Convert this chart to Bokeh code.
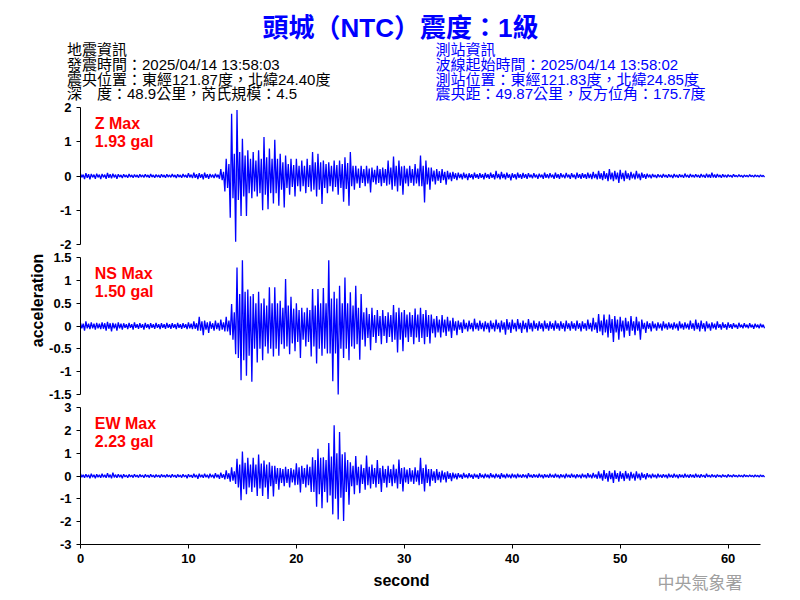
import math
from bokeh.plotting import figure
from bokeh.models import Range1d, Label, FixedTicker, CustomJSTickFormatter, LinearAxis
from bokeh.embed import file_html
from bokeh.resources import INLINE

# ---------------- data ----------------
STEP = 0.5
TIME = [i * STEP for i in range(127)]          # 0 .. 63 s

# per 0.5 s: upper peak, lower peak, and half-width of the dense core
Z_HI = [0.07, 0.08, 0.06, 0.07, 0.06, 0.09, 0.07, 0.05, 0.05, 0.06,
        0.04, 0.05, 0.05, 0.06, 0.04, 0.05, 0.05, 0.06, 0.05, 0.06,
        0.08, 0.10, 0.08, 0.10, 0.06, 0.07, 0.20, 0.50, 1.82, 1.93,
        1.09, 0.75, 0.70, 0.75, 1.14, 0.80, 1.06, 0.65, 0.60, 0.50,
        0.50, 0.45, 0.50, 0.70, 0.65, 0.45, 0.40, 0.45, 0.45, 0.55,
        0.70, 0.30, 0.30, 0.30, 0.25, 0.30, 0.25, 0.45, 0.57, 0.45,
        0.30, 0.30, 0.35, 0.60, 0.45, 0.25, 0.20, 0.20, 0.15, 0.12,
        0.10, 0.10, 0.08, 0.10, 0.08, 0.09, 0.10, 0.15, 0.12, 0.10,
        0.08, 0.10, 0.09, 0.08, 0.08, 0.07, 0.10, 0.08, 0.10, 0.08,
        0.09, 0.08, 0.10, 0.08, 0.10, 0.12, 0.15, 0.14, 0.20, 0.15,
        0.18, 0.16, 0.12, 0.15, 0.10, 0.07, 0.06, 0.05, 0.06, 0.05,
        0.06, 0.05, 0.07, 0.06, 0.05, 0.06, 0.07, 0.10, 0.06, 0.05,
        0.04, 0.05, 0.04, 0.03, 0.04, 0.03, 0.03]
Z_LO = [-0.09, -0.10, -0.08, -0.09, -0.08, -0.07, -0.08, -0.06, -0.05, -0.05,
        -0.05, -0.04, -0.05, -0.05, -0.05, -0.05, -0.04, -0.06, -0.05, -0.05,
        -0.06, -0.09, -0.10, -0.08, -0.06, -0.08, -0.45, -1.22, -1.92, -1.17,
        -1.17, -0.65, -0.60, -1.00, -0.97, -0.80, -0.87, -0.92, -0.55, -0.60,
        -0.45, -0.50, -0.45, -0.60, -0.82, -0.50, -0.45, -0.55, -0.75, -0.87,
        -0.40, -0.35, -0.30, -0.48, -0.25, -0.30, -0.28, -0.40, -0.45, -0.55,
        -0.30, -0.28, -0.30, -0.77, -0.40, -0.25, -0.20, -0.25, -0.15, -0.12,
        -0.10, -0.12, -0.10, -0.08, -0.10, -0.08, -0.10, -0.10, -0.10, -0.13,
        -0.10, -0.08, -0.08, -0.07, -0.08, -0.08, -0.07, -0.08, -0.08, -0.07,
        -0.08, -0.09, -0.08, -0.08, -0.09, -0.10, -0.12, -0.15, -0.15, -0.20,
        -0.15, -0.12, -0.10, -0.12, -0.08, -0.07, -0.06, -0.05, -0.05, -0.06,
        -0.05, -0.05, -0.05, -0.04, -0.05, -0.05, -0.05, -0.05, -0.05, -0.04,
        -0.04, -0.03, -0.04, -0.03, -0.03, -0.03, -0.03]
Z_CORE = [0.04, 0.05, 0.04, 0.04, 0.04, 0.05, 0.04, 0.03, 0.03, 0.03,
          0.03, 0.03, 0.03, 0.03, 0.03, 0.03, 0.03, 0.03, 0.03, 0.03,
          0.04, 0.05, 0.05, 0.05, 0.04, 0.04, 0.12, 0.35, 0.65, 0.70,
          0.60, 0.50, 0.45, 0.50, 0.55, 0.50, 0.50, 0.40, 0.35, 0.32,
          0.30, 0.30, 0.32, 0.40, 0.40, 0.35, 0.30, 0.32, 0.35, 0.38,
          0.30, 0.22, 0.20, 0.22, 0.18, 0.20, 0.20, 0.25, 0.30, 0.28,
          0.22, 0.20, 0.22, 0.30, 0.25, 0.16, 0.14, 0.12, 0.10, 0.08,
          0.06, 0.06, 0.05, 0.05, 0.05, 0.05, 0.05, 0.06, 0.06, 0.05,
          0.05, 0.05, 0.05, 0.04, 0.04, 0.04, 0.05, 0.04, 0.05, 0.04,
          0.04, 0.04, 0.05, 0.05, 0.06, 0.06, 0.08, 0.08, 0.10, 0.10,
          0.09, 0.08, 0.07, 0.07, 0.05, 0.04, 0.03, 0.03, 0.03, 0.03,
          0.03, 0.03, 0.03, 0.03, 0.03, 0.03, 0.04, 0.04, 0.03, 0.03,
          0.02, 0.02, 0.02, 0.02, 0.02, 0.02, 0.02]

NS_HI = [0.07, 0.10, 0.08, 0.07, 0.08, 0.09, 0.07, 0.08, 0.06, 0.07,
         0.08, 0.06, 0.07, 0.06, 0.07, 0.06, 0.07, 0.06, 0.07, 0.06,
         0.08, 0.10, 0.20, 0.12, 0.10, 0.12, 0.14, 0.20, 0.48, 1.28,
         1.44, 0.80, 0.70, 0.75, 0.60, 0.85, 0.85, 0.55, 1.03, 0.64,
         0.50, 0.40, 0.40, 0.81, 0.81, 0.83, 1.44, 0.75, 0.88, 1.06,
         0.74, 0.88, 0.70, 0.40, 0.40, 0.35, 0.35, 0.30, 0.46, 0.40,
         0.35, 0.30, 0.38, 0.40, 0.35, 0.25, 0.22, 0.24, 0.20, 0.18,
         0.12, 0.14, 0.12, 0.16, 0.12, 0.10, 0.12, 0.14, 0.12, 0.15,
         0.14, 0.15, 0.12, 0.15, 0.12, 0.10, 0.12, 0.10, 0.12, 0.10,
         0.12, 0.10, 0.12, 0.10, 0.14, 0.18, 0.26, 0.25, 0.25, 0.22,
         0.20, 0.18, 0.22, 0.20, 0.14, 0.10, 0.10, 0.08, 0.10, 0.08,
         0.08, 0.10, 0.08, 0.12, 0.14, 0.12, 0.10, 0.08, 0.10, 0.08,
         0.08, 0.06, 0.07, 0.06, 0.06, 0.05, 0.05]
NS_LO = [-0.10, -0.07, -0.08, -0.07, -0.10, -0.12, -0.10, -0.08, -0.07, -0.08,
         -0.06, -0.08, -0.07, -0.06, -0.07, -0.06, -0.06, -0.07, -0.06, -0.07,
         -0.07, -0.10, -0.20, -0.15, -0.10, -0.10, -0.12, -0.20, -0.62, -1.19,
         -1.09, -1.22, -0.80, -0.75, -0.60, -0.67, -0.65, -0.50, -0.62, -0.55,
         -0.70, -0.45, -0.67, -0.82, -0.65, -0.60, -1.21, -1.50, -0.70, -0.75,
         -0.50, -0.74, -0.45, -0.53, -0.37, -0.40, -0.37, -0.35, -0.58, -0.55,
         -0.35, -0.40, -0.35, -0.40, -0.38, -0.25, -0.25, -0.22, -0.26, -0.20,
         -0.15, -0.12, -0.12, -0.10, -0.12, -0.14, -0.12, -0.14, -0.19, -0.15,
         -0.12, -0.15, -0.14, -0.12, -0.10, -0.12, -0.10, -0.10, -0.10, -0.12,
         -0.10, -0.10, -0.12, -0.10, -0.12, -0.15, -0.20, -0.25, -0.35, -0.30,
         -0.25, -0.22, -0.20, -0.30, -0.15, -0.12, -0.10, -0.10, -0.08, -0.08,
         -0.10, -0.08, -0.08, -0.10, -0.12, -0.12, -0.10, -0.08, -0.08, -0.08,
         -0.06, -0.06, -0.05, -0.05, -0.06, -0.05, -0.05]
NS_CORE = [0.05, 0.05, 0.05, 0.05, 0.06, 0.06, 0.05, 0.05, 0.04, 0.04,
           0.04, 0.04, 0.04, 0.04, 0.04, 0.04, 0.04, 0.04, 0.04, 0.04,
           0.05, 0.06, 0.10, 0.08, 0.06, 0.07, 0.08, 0.12, 0.30, 0.70,
           0.75, 0.65, 0.50, 0.50, 0.45, 0.50, 0.50, 0.40, 0.45, 0.38,
           0.35, 0.30, 0.35, 0.45, 0.50, 0.50, 0.60, 0.60, 0.50, 0.50,
           0.45, 0.40, 0.30, 0.26, 0.24, 0.22, 0.22, 0.24, 0.30, 0.30,
           0.25, 0.24, 0.25, 0.26, 0.24, 0.16, 0.14, 0.14, 0.12, 0.10,
           0.08, 0.07, 0.07, 0.07, 0.07, 0.07, 0.07, 0.07, 0.08, 0.08,
           0.07, 0.07, 0.07, 0.07, 0.06, 0.06, 0.06, 0.06, 0.06, 0.06,
           0.06, 0.06, 0.06, 0.06, 0.07, 0.08, 0.12, 0.14, 0.15, 0.14,
           0.12, 0.10, 0.10, 0.10, 0.07, 0.06, 0.05, 0.05, 0.05, 0.05,
           0.05, 0.05, 0.05, 0.06, 0.07, 0.06, 0.05, 0.05, 0.04, 0.04,
           0.04, 0.03, 0.03, 0.03, 0.03, 0.03, 0.03]

EW_HI = [0.10, 0.08, 0.10, 0.08, 0.10, 0.12, 0.15, 0.08, 0.08, 0.07,
         0.08, 0.07, 0.07, 0.08, 0.06, 0.07, 0.07, 0.08, 0.07, 0.08,
         0.08, 0.10, 0.10, 0.10, 0.10, 0.12, 0.15, 0.25, 0.38, 0.75,
         1.07, 0.80, 0.80, 0.94, 0.68, 0.60, 0.45, 0.35, 0.40, 0.35,
         0.56, 0.45, 0.50, 0.82, 1.19, 0.82, 1.44, 2.22, 1.93, 1.04,
         0.60, 0.87, 0.50, 0.90, 0.50, 0.70, 0.45, 0.45, 0.50, 0.72,
         0.38, 0.35, 0.38, 0.80, 0.50, 0.30, 0.30, 0.24, 0.20, 0.15,
         0.12, 0.14, 0.12, 0.10, 0.12, 0.10, 0.12, 0.10, 0.12, 0.10,
         0.10, 0.10, 0.08, 0.12, 0.08, 0.10, 0.08, 0.10, 0.10, 0.08,
         0.10, 0.10, 0.08, 0.10, 0.12, 0.14, 0.20, 0.26, 0.22, 0.25,
         0.20, 0.22, 0.18, 0.20, 0.15, 0.12, 0.10, 0.10, 0.08, 0.10,
         0.10, 0.08, 0.10, 0.08, 0.10, 0.08, 0.10, 0.07, 0.06, 0.06,
         0.07, 0.06, 0.05, 0.06, 0.05, 0.05, 0.05]
EW_LO = [-0.08, -0.10, -0.10, -0.08, -0.08, -0.10, -0.08, -0.10, -0.08, -0.07,
         -0.07, -0.08, -0.07, -0.07, -0.07, -0.06, -0.07, -0.08, -0.07, -0.10,
         -0.08, -0.12, -0.08, -0.10, -0.10, -0.12, -0.15, -0.25, -0.35, -1.06,
         -0.80, -0.70, -0.87, -0.87, -1.01, -0.90, -0.60, -0.45, -0.50, -0.40,
         -0.72, -0.50, -0.70, -1.35, -1.41, -1.16, -1.68, -1.90, -1.97, -1.26,
         -0.80, -0.75, -0.60, -0.55, -0.50, -0.70, -0.50, -0.45, -0.55, -0.68,
         -0.35, -0.35, -0.40, -0.68, -0.45, -0.30, -0.28, -0.28, -0.22, -0.15,
         -0.12, -0.10, -0.12, -0.12, -0.10, -0.10, -0.10, -0.12, -0.10, -0.10,
         -0.10, -0.08, -0.10, -0.08, -0.08, -0.10, -0.08, -0.08, -0.10, -0.10,
         -0.08, -0.10, -0.10, -0.10, -0.10, -0.12, -0.20, -0.25, -0.30, -0.25,
         -0.22, -0.20, -0.20, -0.18, -0.15, -0.10, -0.10, -0.08, -0.10, -0.08,
         -0.10, -0.08, -0.08, -0.08, -0.08, -0.08, -0.06, -0.07, -0.06, -0.06,
         -0.05, -0.05, -0.05, -0.04, -0.05, -0.05, -0.05]
EW_CORE = [0.05, 0.05, 0.05, 0.05, 0.05, 0.06, 0.06, 0.05, 0.04, 0.04,
           0.04, 0.04, 0.04, 0.04, 0.04, 0.04, 0.04, 0.04, 0.04, 0.04,
           0.04, 0.05, 0.05, 0.05, 0.05, 0.06, 0.08, 0.12, 0.20, 0.50,
           0.58, 0.50, 0.50, 0.55, 0.50, 0.45, 0.35, 0.30, 0.30, 0.28,
           0.38, 0.35, 0.40, 0.70, 0.80, 0.70, 0.85, 1.00, 0.95, 0.70,
           0.45, 0.40, 0.35, 0.40, 0.35, 0.35, 0.30, 0.30, 0.32, 0.35,
           0.28, 0.25, 0.25, 0.35, 0.30, 0.20, 0.18, 0.16, 0.13, 0.10,
           0.07, 0.07, 0.06, 0.06, 0.06, 0.06, 0.06, 0.06, 0.06, 0.06,
           0.06, 0.05, 0.05, 0.05, 0.05, 0.05, 0.05, 0.05, 0.05, 0.05,
           0.05, 0.05, 0.05, 0.05, 0.06, 0.07, 0.10, 0.12, 0.14, 0.13,
           0.12, 0.11, 0.10, 0.10, 0.08, 0.06, 0.05, 0.05, 0.05, 0.05,
           0.05, 0.05, 0.05, 0.05, 0.05, 0.04, 0.04, 0.04, 0.03, 0.03,
           0.03, 0.03, 0.03, 0.03, 0.03, 0.03, 0.03]

X_TICKS = [0, 10, 20, 30, 40, 50, 60]
Z_TICKS = [-2, -1, 0, 1, 2]
NS_TICKS = [-1.5, -1, -0.5, 0, 0.5, 1, 1.5]
EW_TICKS = [-3, -2, -1, 0, 1, 2, 3]
X_END = 63

TITLE = "頭城（NTC）震度：1級"
LEFT_INFO = ["地震資訊",
             "發震時間：2025/04/14 13:58:03",
             "震央位置：東經121.87度，北緯24.40度",
             "深　度：48.9公里，芮氏規模：4.5"]
RIGHT_INFO = ["測站資訊",
              "波線起始時間：2025/04/14 13:58:02",
              "測站位置：東經121.83度，北緯24.85度",
              "震央距：49.87公里，反方位角：175.7度"]
MAX_LABELS = [("Z Max", "1.93 gal"), ("NS Max", "1.50 gal"), ("EW Max", "2.23 gal")]

# ---------------- layout (pixels) ----------------
W, H = 800, 600
AX_LEFT, AX_RIGHT = 80, 760
PANELS = [("z", Z_TICKS, 107, 244), ("ns", NS_TICKS, 257, 394), ("ew", EW_TICKS, 407, 544)]
BLUE = "#0000FF"
SANS = "Liberation Sans"
MIX = "Liberation Sans, Noto Sans CJK TC"

pxs = (AX_RIGHT - AX_LEFT) / X_END              # pixels per second
x_range = Range1d(-AX_LEFT / pxs, (W - AX_LEFT) / pxs)

p = figure(width=W, height=H, x_range=x_range, y_range=Range1d(H, 0),
           min_border=0, x_axis_location=None, y_axis_location=None,
           output_backend="svg", toolbar_location=None)
p.outline_line_color = None
p.grid.visible = False
p.extra_x_ranges = {"px": Range1d(0, W)}

ranges = {}
for name, ticks, top, bottom in PANELS:
    lo, hi = ticks[0], ticks[-1]
    u = (hi - lo) / (bottom - top)
    ranges[name] = Range1d(lo - (H - bottom) * u, hi + top * u)
p.extra_y_ranges = ranges


def style_axis(ax):
    ax.axis_line_color = "black"
    ax.axis_line_width = 1
    ax.major_tick_line_color = "black"
    ax.major_tick_out = 4
    ax.major_tick_in = 0
    ax.minor_tick_line_color = None
    ax.major_label_text_font = SANS
    ax.major_label_text_font_style = "bold"
    ax.major_label_text_font_size = "13px"
    ax.major_label_text_color = "black"
    ax.major_label_standoff = 5
    ax.formatter = CustomJSTickFormatter(code="return tick.toString();")


def trace(hi, lo, core):
    # within each 0.5 s bin: upper peak, lower core, upper core, lower peak
    xs, ys = [], []
    for t, h, l, c in zip(TIME, hi, lo, core):
        xs.extend([t, t + STEP / 4, t + STEP / 2, t + 3 * STEP / 4])
        ys.extend([h, -c, c, l])
    return xs, ys


series = {"z": (Z_HI, Z_LO, Z_CORE), "ns": (NS_HI, NS_LO, NS_CORE), "ew": (EW_HI, EW_LO, EW_CORE)}
for name, ticks, top, bottom in PANELS:
    xs, ys = trace(*series[name])
    p.line(xs, ys, line_color=BLUE, line_width=1.3, y_range_name=name)
    yax = LinearAxis(y_range_name=name, fixed_location=0,
                     bounds=(ticks[0], ticks[-1]), ticker=FixedTicker(ticks=ticks))
    style_axis(yax)
    p.add_layout(yax, "left")

xax = LinearAxis(y_range_name="ew", fixed_location=EW_TICKS[0], bounds=(0, X_END),
                 ticker=FixedTicker(ticks=X_TICKS))
style_axis(xax)
p.add_layout(xax, "below")


def label(x, y, text, **kw):
    opts = dict(x_range_name="px", text_baseline="alphabetic")
    opts.update(kw)
    p.add_layout(Label(x=x, y=y, text=text, **opts))


# header
label(400, 27, TITLE, text_align="center", text_font=MIX, text_font_size="26px",
      text_font_style="bold", text_color=BLUE)
for i, (lt, rt) in enumerate(zip(LEFT_INFO, RIGHT_INFO)):
    yb = 49.3 + i * 14.7
    label(66.5, yb, lt, text_font=MIX, text_font_size="15px", text_color="black")
    label(435, yb, rt, text_font=MIX, text_font_size="15px", text_color=BLUE)

# red max labels
for (l1, l2), (_, _, top, _) in zip(MAX_LABELS, PANELS):
    label(94.3, top + 16.3, l1, text_font=SANS, text_font_style="bold",
          text_font_size="16px", text_color="#FF0000")
    label(94.3, top + 33.7, l2, text_font=SANS, text_font_style="bold",
          text_font_size="16px", text_color="#FF0000")

# axis titles and watermark
label(37.3, 300, "acceleration", angle=math.pi / 2, text_align="center",
      text_font=SANS, text_font_style="bold", text_font_size="16px", text_color="black")
label(401, 580, "second", text_align="center", text_baseline="middle",
      text_font=SANS, text_font_style="bold", text_font_size="16px", text_color="black")
label(657, 581, "中央氣象署", text_align="left", text_baseline="middle",
      text_font="Noto Sans CJK TC", text_font_size="17px", text_color="#A0A0A0")

open("out.html", "w").write(file_html(p, INLINE))
